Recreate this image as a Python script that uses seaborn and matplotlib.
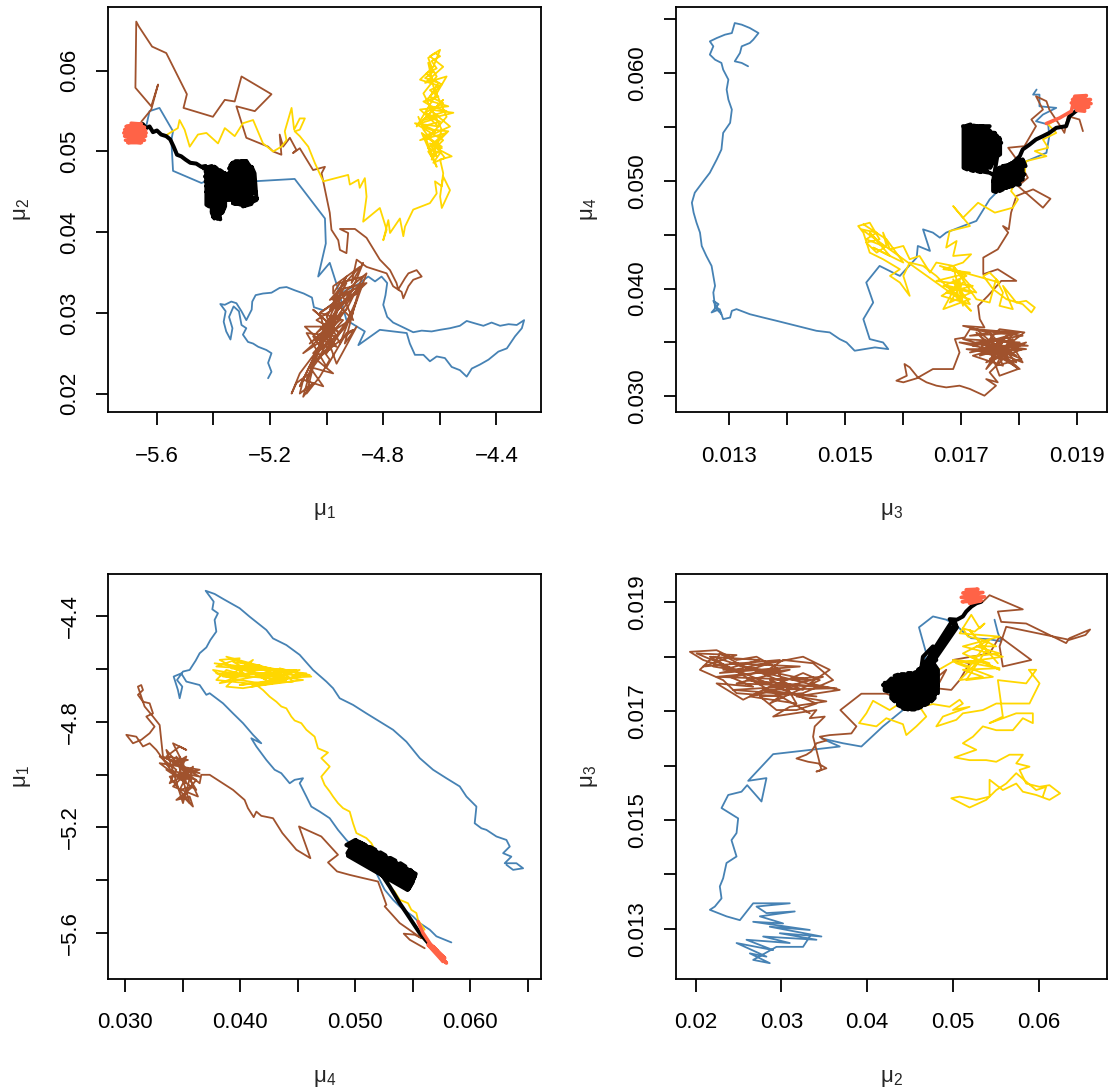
import matplotlib
matplotlib.use("Agg")
import matplotlib.pyplot as plt
import numpy as np
import seaborn as sns

sns.set_style("white")
plt.rcParams['font.family'] = ['Liberation Sans', 'DejaVu Sans']

# ---------------- panel 1 : mu1 (x) vs mu2 (y) ----------------
p1_blue_mu1 = [-5.638, -5.626, -5.591, -5.543, -5.549, -5.543, -5.443, -5.355, -5.260, -5.113,
               -5.006, -5.003, -5.030, -4.989, -4.959, -4.930, -4.865, -4.888, -4.812, -4.717,
               -4.706, -4.688, -4.658, -4.635, -4.611, -4.582, -4.558, -4.529, -4.505, -4.487,
               -4.458, -4.428, -4.393, -4.363, -4.334, -4.310, -4.302, -4.328, -4.357, -4.387,
               -4.417, -4.446, -4.476, -4.505, -4.529, -4.564, -4.599, -4.629, -4.664, -4.694,
               -4.735, -4.765, -4.786, -4.800, -4.792, -4.786, -4.806, -4.829, -4.853, -4.883,
               -4.906, -4.932, -4.956, -4.977, -5.010, -5.045, -5.052, -5.081, -5.113, -5.142,
               -5.166, -5.195, -5.225, -5.251, -5.263, -5.265, -5.284, -5.301, -5.319, -5.337,
               -5.360, -5.376, -5.357, -5.364, -5.355, -5.340, -5.333, -5.345, -5.329, -5.310,
               -5.301, -5.284, -5.296, -5.278, -5.260, -5.242, -5.213, -5.195, -5.207, -5.195,
               -5.207]
p1_blue_mu2 = [0.0531, 0.0550, 0.0554, 0.0525, 0.0514, 0.0476, 0.0461, 0.0471, 0.0463, 0.0466,
               0.0417, 0.0386, 0.0345, 0.0362, 0.0329, 0.0291, 0.0277, 0.0260, 0.0279, 0.0275,
               0.0262, 0.0248, 0.0248, 0.0240, 0.0246, 0.0244, 0.0233, 0.0229, 0.0221, 0.0231,
               0.0236, 0.0242, 0.0252, 0.0256, 0.0271, 0.0281, 0.0291, 0.0285, 0.0286, 0.0284,
               0.0288, 0.0284, 0.0287, 0.0290, 0.0284, 0.0281, 0.0279, 0.0277, 0.0278, 0.0276,
               0.0283, 0.0288, 0.0295, 0.0310, 0.0322, 0.0337, 0.0345, 0.0339, 0.0345, 0.0337,
               0.0332, 0.0328, 0.0321, 0.0312, 0.0303, 0.0307, 0.0319, 0.0324, 0.0328, 0.0332,
               0.0331, 0.0325, 0.0324, 0.0322, 0.0314, 0.0304, 0.0291, 0.0302, 0.0312, 0.0314,
               0.0310, 0.0311, 0.0302, 0.0289, 0.0277, 0.0267, 0.0281, 0.0295, 0.0308, 0.0302,
               0.0285, 0.0281, 0.0273, 0.0264, 0.0262, 0.0258, 0.0254, 0.0250, 0.0238, 0.0227,
               0.0219]

p1_brown_mu1 = [-5.655, -5.620, -5.596, -5.620, -5.676, -5.673, -5.664, -5.617, -5.567, -5.494,
                -5.506, -5.402, -5.360, -5.325, -5.301, -5.195, -5.254, -5.319, -5.284, -5.207,
                -5.189, -5.160, -5.166, -5.154, -5.130, -5.107, -5.119, -5.095, -5.048, -5.006,
                -5.018, -4.989, -4.983, -4.959, -4.953, -4.930, -4.924, -4.953, -4.900, -4.859,
                -4.812, -4.776, -4.753, -4.747, -4.723, -4.711, -4.682, -4.664, -4.694, -4.711,
                -4.729, -4.735, -4.765, -4.788,
                -4.859, -4.894, -4.912, -4.871, -4.924, -4.859, -4.953, -4.906, -4.977, -4.930,
                -4.989, -4.894, -5.036, -4.953, -5.048, -4.977, -5.077, -4.989, -5.024, -4.942,
                -5.048, -4.965, -5.071, -5.000, -4.930, -4.906, -5.036, -4.977, -5.060, -5.012,
                -5.083, -5.095, -5.048, -5.083, -5.060, -5.107, -5.124, -5.095, -5.024, -4.953,
                -4.883, -4.936, -4.894, -4.965, -5.000, -4.924, -4.871, -4.953, -4.977,
                -4.977, -4.883, -4.989, -4.906, -5.024, -4.871, -5.036, -4.930, -5.060, -4.953,
                -5.083, -4.977, -5.048, -4.906, -5.000, -4.953, -5.071, -5.000, -5.095, -4.977,
                -4.918, -5.012, -4.965, -5.048, -4.989, -5.024, -5.071, -5.036, -4.942, -4.894,
                -4.953, -5.000, -4.930, -4.977, -5.024, -4.918, -4.859, -4.942]
p1_brown_mu2 = [0.0537, 0.0552, 0.0583, 0.0556, 0.0579, 0.0661, 0.0655, 0.0630, 0.0622, 0.0571,
                0.0554, 0.0543, 0.0564, 0.0562, 0.0593, 0.0571, 0.0550, 0.0556, 0.0517, 0.0506,
                0.0500, 0.0496, 0.0521, 0.0506, 0.0517, 0.0502, 0.0498, 0.0504, 0.0477, 0.0481,
                0.0473, 0.0424, 0.0403, 0.0390, 0.0378, 0.0374, 0.0399, 0.0404, 0.0404, 0.0393,
                0.0366, 0.0353, 0.0337, 0.0329, 0.0343, 0.0349, 0.0353, 0.0345, 0.0341, 0.0333,
                0.0318, 0.0326, 0.0333, 0.0349,
                0.0357, 0.0366, 0.0337, 0.0362, 0.0316, 0.0337, 0.0329, 0.0291, 0.0316, 0.0345,
                0.0304, 0.0324, 0.0291, 0.0275, 0.0304, 0.0283, 0.0283, 0.0254, 0.0300, 0.0291,
                0.0250, 0.0271, 0.0275, 0.0233, 0.0275, 0.0279, 0.0242, 0.0225, 0.0233, 0.0209,
                0.0217, 0.0200, 0.0213, 0.0196, 0.0225, 0.0213, 0.0200, 0.0225, 0.0258, 0.0300,
                0.0333, 0.0262, 0.0283, 0.0237, 0.0271, 0.0308, 0.0345, 0.0337, 0.0324,
                0.0333, 0.0357, 0.0316, 0.0329, 0.0300, 0.0337, 0.0275, 0.0304, 0.0262, 0.0291,
                0.0250, 0.0275, 0.0233, 0.0300, 0.0250, 0.0316, 0.0217, 0.0275, 0.0209, 0.0295,
                0.0324, 0.0279, 0.0258, 0.0271, 0.0242, 0.0221, 0.0200, 0.0250, 0.0279, 0.0316,
                0.0262, 0.0295, 0.0337, 0.0304, 0.0267, 0.0291, 0.0349, 0.0324]

p1_gold_mu1 = [-5.573, -5.526, -5.520, -5.502, -5.484, -5.455, -5.425, -5.384, -5.360, -5.325,
               -5.296, -5.260, -5.225, -5.189, -5.160, -5.142, -5.148, -5.124, -5.115, -5.095,
               -5.077, -5.095, -5.113, -5.095, -5.065, -5.042, -5.012, -4.924, -4.918, -4.888,
               -4.883, -4.865, -4.859, -4.871, -4.812, -4.788, -4.800, -4.782, -4.776, -4.741,
               -4.729, -4.723, -4.694, -4.635, -4.611, -4.617, -4.593, -4.588, -4.564, -4.593,
               -4.599, -4.588,
               -4.599, -4.558, -4.623, -4.576, -4.670, -4.564, -4.635, -4.552, -4.658, -4.588,
               -4.682, -4.611, -4.576, -4.652, -4.588, -4.635, -4.599, -4.623, -4.670, -4.599,
               -4.647, -4.570, -4.670, -4.605, -4.688, -4.588, -4.635, -4.611, -4.647, -4.576,
               -4.623, -4.641, -4.611, -4.658, -4.593, -4.629, -4.593, -4.664,
               -4.623, -4.641, -4.611, -4.635, -4.593, -4.652, -4.617, -4.664, -4.599, -4.641,
               -4.576, -4.629, -4.658, -4.605, -4.635, -4.593, -4.623, -4.647, -4.611, -4.629,
               -4.599, -4.617, -4.641, -4.623, -4.652, -4.605, -4.635, -4.588, -4.652, -4.611,
               -4.670, -4.623, -4.570, -4.611, -4.641, -4.599, -4.623, -4.582, -4.658, -4.676]
p1_gold_mu2 = [0.0519, 0.0529, 0.0539, 0.0527, 0.0506, 0.0521, 0.0523, 0.0510, 0.0529, 0.0519,
               0.0535, 0.0539, 0.0510, 0.0500, 0.0506, 0.0514, 0.0525, 0.0554, 0.0527, 0.0541,
               0.0541, 0.0527, 0.0525, 0.0519, 0.0506, 0.0486, 0.0463, 0.0471, 0.0459, 0.0465,
               0.0455, 0.0467, 0.0444, 0.0413, 0.0430, 0.0403, 0.0390, 0.0415, 0.0399, 0.0417,
               0.0395, 0.0407, 0.0428, 0.0436, 0.0448, 0.0463, 0.0457, 0.0469, 0.0452, 0.0430,
               0.0444, 0.0473,
               0.0490, 0.0494, 0.0506, 0.0523, 0.0514, 0.0531, 0.0552, 0.0548, 0.0539, 0.0564,
               0.0531, 0.0572, 0.0593, 0.0585, 0.0605, 0.0618, 0.0626, 0.0605, 0.0589, 0.0581,
               0.0564, 0.0556, 0.0552, 0.0531, 0.0535, 0.0514, 0.0498, 0.0481, 0.0514, 0.0543,
               0.0581, 0.0610, 0.0593, 0.0572, 0.0527, 0.0490, 0.0506, 0.0523,
               0.0490, 0.0500, 0.0494, 0.0510, 0.0504, 0.0519, 0.0525, 0.0531, 0.0537, 0.0543,
               0.0550, 0.0556, 0.0562, 0.0568, 0.0576, 0.0583, 0.0589, 0.0597, 0.0603, 0.0612,
               0.0618, 0.0622, 0.0616, 0.0599, 0.0591, 0.0585, 0.0568, 0.0560, 0.0548, 0.0541,
               0.0535, 0.0527, 0.0525, 0.0514, 0.0504, 0.0498, 0.0486, 0.0492, 0.0527, 0.0543]

p1_black_mu1 = [-5.650, -5.638, -5.626, -5.614, -5.600, -5.585, -5.567, -5.553, -5.541, -5.529,
                -5.514, -5.499, -5.482, -5.461, -5.443, -5.428,
                -5.435, -5.396, -5.428, -5.360, -5.430, -5.352, -5.428, -5.349, -5.425, -5.350,
                -5.425, -5.347, -5.423, -5.355, -5.416, -5.359, -5.411, -5.364, -5.406, -5.371,
                -5.402, -5.376, -5.390, -5.366,
                -5.343, -5.333, -5.284, -5.345, -5.266, -5.347, -5.263, -5.349, -5.260, -5.347,
                -5.258, -5.347, -5.254, -5.345, -5.251, -5.343, -5.246, -5.331, -5.266, -5.296,
                -5.248,
                -5.255, -5.265, -5.265, -5.274, -5.274, -5.284, -5.284, -5.293, -5.293, -5.303,
                -5.303, -5.312, -5.312, -5.322, -5.322, -5.331, -5.331, -5.340, -5.340,
                -5.350, -5.350, -5.359, -5.359, -5.369, -5.369, -5.378, -5.378, -5.388, -5.388,
                -5.397, -5.397, -5.406, -5.406, -5.416, -5.416, -5.425, -5.425]
p1_black_mu2 = [0.0534, 0.0529, 0.0531, 0.0524, 0.0526, 0.0521, 0.0519, 0.0515, 0.0506, 0.0496,
                0.0494, 0.0490, 0.0486, 0.0485, 0.0481, 0.0482,
                0.0479, 0.0481, 0.0475, 0.0473, 0.0469, 0.0467, 0.0463, 0.0461, 0.0457, 0.0455,
                0.0450, 0.0448, 0.0444, 0.0442, 0.0438, 0.0436, 0.0432, 0.0430, 0.0426, 0.0424,
                0.0419, 0.0416, 0.0424, 0.0440,
                0.0446, 0.0486, 0.0488, 0.0479, 0.0481, 0.0473, 0.0475, 0.0467, 0.0469, 0.0461,
                0.0463, 0.0455, 0.0457, 0.0448, 0.0450, 0.0442, 0.0442, 0.0436, 0.0435, 0.0432,
                0.0440,
                0.0473, 0.0481, 0.0440, 0.0438, 0.0483, 0.0488, 0.0436, 0.0434, 0.0488, 0.0488,
                0.0434, 0.0435, 0.0488, 0.0488, 0.0435, 0.0436, 0.0486, 0.0483, 0.0440,
                0.0440, 0.0469, 0.0473, 0.0432, 0.0424, 0.0475, 0.0477, 0.0419, 0.0417, 0.0479,
                0.0481, 0.0417, 0.0424, 0.0482, 0.0481, 0.0432, 0.0434, 0.0481]

p1_salmon_mu1 = [-5.691, -5.655, -5.709, -5.644, -5.714, -5.640, -5.717, -5.638, -5.714, -5.640,
                 -5.711, -5.644, -5.703, -5.655, -5.685, -5.673]
p1_salmon_mu2 = [0.0535, 0.0534, 0.0531, 0.0530, 0.0527, 0.0526, 0.0523, 0.0523, 0.0519, 0.0519,
                 0.0514, 0.0514, 0.0511, 0.0511, 0.0512, 0.0533]

# ---------------- panel 2 : mu3 (x) vs mu4 (y) ----------------
p2_blue_mu3 = [0.01831, 0.01825, 0.01836, 0.01836, 0.01865, 0.01842, 0.01830, 0.01851, 0.01853, 0.01848,
               0.01807, 0.01773, 0.01750, 0.01727, 0.01704, 0.01675, 0.01664, 0.01652, 0.01635, 0.01647,
               0.01626, 0.01624, 0.01595, 0.01583, 0.01560, 0.01537, 0.01549, 0.01532, 0.01543, 0.01566,
               0.01575, 0.01552, 0.01517, 0.01503, 0.01491, 0.01474, 0.01451, 0.01428, 0.01405, 0.01382,
               0.01359, 0.01336, 0.01313, 0.01305, 0.01302, 0.01290,
               0.01284, 0.01270, 0.01282, 0.01273, 0.01287, 0.01276,
               0.01273, 0.01276, 0.01270, 0.01261, 0.01253, 0.01250, 0.01244, 0.01239, 0.01236, 0.01241,
               0.01256, 0.01267, 0.01279, 0.01287, 0.01290, 0.01302, 0.01305, 0.01299, 0.01296, 0.01299,
               0.01290, 0.01287, 0.01276, 0.01267, 0.01273, 0.01267, 0.01279, 0.01293, 0.01305, 0.01310,
               0.01322, 0.01336, 0.01351, 0.01342, 0.01336, 0.01322, 0.01319, 0.01310, 0.01322, 0.01333]
p2_blue_mu4 = [0.05846, 0.05799, 0.05799, 0.05691, 0.05676, 0.05614, 0.05552, 0.05522, 0.05414, 0.05259,
               0.05167, 0.04951, 0.04827, 0.04627, 0.04580, 0.04519, 0.04472, 0.04519, 0.04549, 0.04349,
               0.04395, 0.04287, 0.04117, 0.04148, 0.04210, 0.04056, 0.03870, 0.03716, 0.03531, 0.03500,
               0.03438, 0.03454, 0.03423, 0.03500, 0.03531, 0.03593, 0.03608, 0.03639, 0.03670, 0.03701,
               0.03731, 0.03762, 0.03809, 0.03793, 0.03731, 0.03716,
               0.03809, 0.03778, 0.03855, 0.03886, 0.03762, 0.03824,
               0.03963, 0.04025, 0.04210, 0.04302, 0.04395, 0.04519, 0.04611, 0.04704, 0.04796, 0.04889,
               0.04997, 0.05074, 0.05198, 0.05290, 0.05444, 0.05537, 0.05660, 0.05753, 0.05846, 0.05938,
               0.06031, 0.06093, 0.06123, 0.06170, 0.06247, 0.06293, 0.06324, 0.06355, 0.06370, 0.06463,
               0.06448, 0.06417, 0.06370, 0.06309, 0.06278, 0.06247, 0.06185, 0.06108, 0.06093, 0.06062]

p2_brown_mu3 = [0.01911, 0.01905, 0.01885, 0.01879, 0.01874, 0.01853, 0.01848, 0.01830, 0.01842, 0.01822,
                0.01830, 0.01810, 0.01782, 0.01805, 0.01816, 0.01799, 0.01842, 0.01855, 0.01825, 0.01796,
                0.01787, 0.01783, 0.01773, 0.01782, 0.01764, 0.01739, 0.01739, 0.01764, 0.01796, 0.01770,
                0.01747, 0.01730, 0.01733, 0.01741,
                0.01704, 0.01750, 0.01716, 0.01802, 0.01721, 0.01773, 0.01733, 0.01813, 0.01744, 0.01807,
                0.01710, 0.01779, 0.01739, 0.01805, 0.01761, 0.01790, 0.01727, 0.01773, 0.01698, 0.01756,
                0.01802, 0.01773, 0.01750, 0.01764, 0.01744, 0.01761, 0.01741, 0.01716, 0.01698, 0.01675,
                0.01658, 0.01641, 0.01626, 0.01612, 0.01603, 0.01607, 0.01589, 0.01601, 0.01624, 0.01652,
                0.01687, 0.01698, 0.01690, 0.01707,
                0.01716, 0.01807, 0.01727, 0.01813, 0.01739, 0.01796, 0.01750, 0.01773, 0.01721, 0.01802,
                0.01704, 0.01784, 0.01750, 0.01810, 0.01767, 0.01733, 0.01796, 0.01756, 0.01816, 0.01773,
                0.01716, 0.01790, 0.01744, 0.01779, 0.01807, 0.01761, 0.01727, 0.01799, 0.01767, 0.01750]
p2_brown_mu4 = [0.05460, 0.05568, 0.05599, 0.05444, 0.05491, 0.05660, 0.05738, 0.05784, 0.05660, 0.05568,
                0.05506, 0.05321, 0.05306, 0.05136, 0.05028, 0.04951, 0.04750, 0.04833, 0.04920, 0.04858,
                0.04704, 0.04549, 0.04580, 0.04519, 0.04364, 0.04287, 0.04133, 0.04179, 0.04071, 0.04071,
                0.03932, 0.03840, 0.03716, 0.03639,
                0.03654, 0.03593, 0.03562, 0.03593, 0.03469, 0.03531, 0.03377, 0.03500, 0.03315, 0.03438,
                0.03438, 0.03377, 0.03500, 0.03346, 0.03284, 0.03593, 0.03623, 0.03407, 0.03500, 0.03469,
                0.03253, 0.03346, 0.03222, 0.03130, 0.03160, 0.03099, 0.03006, 0.03068, 0.03099, 0.03083,
                0.03099, 0.03130, 0.03176, 0.03269, 0.03300, 0.03191, 0.03145, 0.03130, 0.03167, 0.03253,
                0.03253, 0.03407, 0.03531, 0.03546,
                0.03623, 0.03562, 0.03500, 0.03438, 0.03407, 0.03315, 0.03593, 0.03284, 0.03377, 0.03500,
                0.03531, 0.03407, 0.03346, 0.03593, 0.03623, 0.03438, 0.03377, 0.03531, 0.03469, 0.03469,
                0.03407, 0.03531, 0.03253, 0.03562, 0.03315, 0.03407, 0.03593, 0.03253, 0.03191, 0.03438]

p2_gold_mu3 = [0.01871, 0.01851, 0.01865, 0.01842, 0.01851, 0.01828, 0.01848, 0.01813, 0.01810, 0.01796,
               0.01787, 0.01799, 0.01790, 0.01759, 0.01730, 0.01704, 0.01687, 0.01716, 0.01681, 0.01675,
               0.01693, 0.01687, 0.01718, 0.01704, 0.01670, 0.01716, 0.01658, 0.01721, 0.01675, 0.01716,
               0.01670, 0.01698, 0.01704, 0.01687, 0.01727, 0.01678, 0.01718, 0.01658, 0.01635, 0.01612,
               0.01601, 0.01612, 0.01595, 0.01578, 0.01595, 0.01566, 0.01543, 0.01532, 0.01523, 0.01543,
               0.01560, 0.01537, 0.01555, 0.01572, 0.01566, 0.01578, 0.01601, 0.01612, 0.01629, 0.01647,
               0.01658, 0.01687, 0.01727, 0.01750, 0.01761, 0.01773, 0.01767, 0.01790, 0.01773, 0.01796,
               0.01813, 0.01828, 0.01822, 0.01807, 0.01779, 0.01756, 0.01739, 0.01750, 0.01767,
               0.01664, 0.01710, 0.01670, 0.01718, 0.01681, 0.01704, 0.01667, 0.01716, 0.01687, 0.01698,
               0.01529, 0.01555, 0.01537, 0.01566, 0.01543, 0.01578, 0.01549, 0.01601, 0.01572, 0.01532]
p2_gold_mu4 = [0.05583, 0.05522, 0.05444, 0.05383, 0.05306, 0.05275, 0.05228, 0.05182, 0.05059, 0.05012,
               0.04904, 0.04827, 0.04750, 0.04704, 0.04796, 0.04657, 0.04765, 0.04580, 0.04534, 0.04380,
               0.04441, 0.04302, 0.04318, 0.04241, 0.04179, 0.04148, 0.04071, 0.04025, 0.03963, 0.03901,
               0.03809, 0.04086, 0.03840, 0.04210, 0.03963, 0.04025, 0.03793, 0.04117, 0.04210, 0.04241,
               0.04117, 0.03932, 0.04056, 0.04117, 0.04179, 0.04272, 0.04333, 0.04519, 0.04580, 0.04611,
               0.04457, 0.04426, 0.04333, 0.04395, 0.04519, 0.04364, 0.04395, 0.04272, 0.04302, 0.04148,
               0.04241, 0.04210, 0.03901, 0.03870, 0.04086, 0.03963, 0.03840, 0.03809, 0.04025, 0.03870,
               0.03886, 0.03824, 0.03778, 0.03855, 0.03901, 0.03994, 0.04117, 0.04148, 0.04056,
               0.04210, 0.04117, 0.04025, 0.03963, 0.03870, 0.04056, 0.03932, 0.03855, 0.04086, 0.03901,
               0.04549, 0.04519, 0.04457, 0.04395, 0.04519, 0.04302, 0.04380, 0.04241, 0.04457, 0.04596]

p2_black_mu3 = [0.01902, 0.01888, 0.01882, 0.01865, 0.01853, 0.01842, 0.01830, 0.01819, 0.01807, 0.01802,
                0.01790, 0.01779, 0.01767,
                0.01759, 0.01802, 0.01756, 0.01807, 0.01761, 0.01810, 0.01767, 0.01802, 0.01773, 0.01799,
                0.01764, 0.01790,
                0.01750, 0.01733, 0.01741, 0.01707, 0.01759, 0.01710, 0.01750, 0.01716, 0.01764, 0.01718,
                0.01767, 0.01716, 0.01770, 0.01718, 0.01767, 0.01710, 0.01759, 0.01707, 0.01750, 0.01704,
                0.01705, 0.01705, 0.01711, 0.01711, 0.01717, 0.01717, 0.01722, 0.01722, 0.01728, 0.01728,
                0.01734, 0.01734, 0.01740, 0.01740, 0.01745, 0.01745, 0.01751, 0.01751, 0.01757, 0.01757,
                0.01763, 0.01763, 0.01768, 0.01768,
                0.01756, 0.01756, 0.01761, 0.01761, 0.01767, 0.01767, 0.01773, 0.01773, 0.01779, 0.01779,
                0.01784, 0.01784, 0.01790, 0.01790, 0.01796, 0.01796, 0.01802, 0.01802, 0.01807, 0.01807,
                0.01812]
p2_black_mu4 = [0.05660, 0.05599, 0.05506, 0.05491, 0.05444, 0.05414, 0.05383, 0.05336, 0.05290, 0.05228,
                0.05167, 0.05136, 0.05120,
                0.04966, 0.04966, 0.04997, 0.05012, 0.05043, 0.05059, 0.05090, 0.05105, 0.05136, 0.05136,
                0.04920, 0.04951,
                0.05074, 0.05090, 0.05120, 0.05120, 0.05167, 0.05182, 0.05228, 0.05228, 0.05275, 0.05275,
                0.05306, 0.05321, 0.05352, 0.05367, 0.05398, 0.05414, 0.05444, 0.05460, 0.05506, 0.05506,
                0.05491, 0.05120, 0.05105, 0.05512, 0.05522, 0.05099, 0.05090, 0.05512, 0.05506, 0.05090,
                0.05080, 0.05506, 0.05500, 0.05090, 0.05099, 0.05491, 0.05460, 0.05120, 0.05198, 0.05444,
                0.05414, 0.05228, 0.05244, 0.05383,
                0.04997, 0.04904, 0.04895, 0.05074, 0.05120, 0.04904, 0.04920, 0.05136, 0.05142, 0.04935,
                0.04951, 0.05151, 0.05167, 0.04966, 0.04981, 0.05182, 0.05198, 0.04997, 0.05028, 0.05198,
                0.05136]

p2_salmon_mu3 = [0.01848, 0.01871, 0.01891, 0.01897, 0.01917, 0.01893, 0.01924, 0.01891, 0.01925, 0.01894,
                 0.01921, 0.01900, 0.01914, 0.01905]
p2_salmon_mu4 = [0.05531, 0.05583, 0.05645, 0.05784, 0.05790, 0.05753, 0.05753, 0.05722, 0.05716, 0.05685,
                 0.05685, 0.05654, 0.05645, 0.05753]

# ---------------- panel 3 : mu4 (x) vs mu1 (y) ----------------
p3_blue_mu4 = [0.05836, 0.05706, 0.05648, 0.05561, 0.05503, 0.05387, 0.05329, 0.05256, 0.05198, 0.05155,
               0.05097, 0.05039, 0.04981, 0.04923, 0.04850, 0.04778, 0.04691, 0.04618, 0.04575, 0.04517,
               0.04546, 0.04473, 0.04430, 0.04357, 0.04299, 0.04227, 0.04140, 0.04096, 0.04183, 0.04111,
               0.04024, 0.03937, 0.03850, 0.03734, 0.03705, 0.03647, 0.03531, 0.03487, 0.03421, 0.03458,
               0.03473, 0.03496, 0.03450, 0.03502, 0.03560, 0.03612, 0.03647, 0.03705, 0.03740, 0.03792,
               0.03777, 0.03806, 0.03757, 0.03769, 0.03699, 0.03777, 0.03856, 0.03995, 0.04082, 0.04227,
               0.04285, 0.04401, 0.04517, 0.04633, 0.04749, 0.04807, 0.04865, 0.04981, 0.05097, 0.05213,
               0.05329, 0.05445, 0.05561, 0.05677, 0.05793, 0.05909, 0.05967, 0.06054, 0.06039, 0.06097,
               0.06141, 0.06228, 0.06315, 0.06344, 0.06286, 0.06358, 0.06300, 0.06402, 0.06460, 0.06373,
               0.06315]
p3_blue_mu1 = [-5.634, -5.611, -5.586, -5.561, -5.536, -5.498, -5.473, -5.435, -5.385, -5.347,
               -5.322, -5.297, -5.272, -5.247, -5.209, -5.165, -5.140, -5.121, -5.083, -5.033,
               -5.014, -5.020, -5.033, -4.995, -4.982, -4.945, -4.894, -4.863, -4.882, -4.850,
               -4.806, -4.769, -4.731, -4.693, -4.699, -4.662, -4.649, -4.618, -4.630, -4.681,
               -4.712, -4.668, -4.643, -4.611, -4.605, -4.570, -4.542, -4.520, -4.492, -4.460,
               -4.416, -4.391, -4.376, -4.347, -4.306, -4.318, -4.338, -4.372, -4.404, -4.454,
               -4.486, -4.511, -4.548, -4.605, -4.649, -4.674, -4.712, -4.737, -4.769, -4.800,
               -4.831, -4.876, -4.938, -4.982, -5.014, -5.045, -5.083, -5.121, -5.184, -5.203,
               -5.209, -5.234, -5.247, -5.272, -5.297, -5.310, -5.335, -5.335, -5.354, -5.360,
               -5.341]

p3_brown_mu4 = [0.05604, 0.05474, 0.05422, 0.05517, 0.05575, 0.05387, 0.05256, 0.05271, 0.05198, 0.05068,
                0.04952, 0.04842, 0.04763, 0.04850, 0.04705, 0.04511, 0.04610, 0.04488, 0.04366, 0.04285,
                0.04183, 0.04140, 0.04117, 0.04067, 0.04038, 0.03937, 0.03734, 0.03661,
                0.03647, 0.03502, 0.03647, 0.03415, 0.03545, 0.03357, 0.03473, 0.03531, 0.03415, 0.03502,
                0.03299, 0.03444, 0.03386, 0.03545, 0.03473, 0.03589, 0.03444, 0.03560, 0.03589, 0.03502,
                0.03618, 0.03415, 0.03270, 0.03212, 0.03154, 0.03096, 0.03009, 0.03067, 0.03139, 0.03212,
                0.03255, 0.03183, 0.03241, 0.03212, 0.03154, 0.03110, 0.03154, 0.03139, 0.03110, 0.03168,
                0.03241, 0.03299,
                0.03328, 0.03647, 0.03357, 0.03618, 0.03444, 0.03560, 0.03386, 0.03647, 0.03299, 0.03531,
                0.03473, 0.03632, 0.03415, 0.03589, 0.03502, 0.03357, 0.03574, 0.03458, 0.03531, 0.03386]
p3_brown_mu1 = [-5.656, -5.624, -5.601, -5.605, -5.618, -5.561, -5.498, -5.492, -5.404, -5.391,
                -5.379, -5.366, -5.332, -5.303, -5.234, -5.196, -5.316, -5.284, -5.221, -5.165,
                -5.156, -5.140, -5.161, -5.127, -5.096, -5.058, -5.001, -5.001,
                -5.033, -4.982, -4.995, -4.957, -4.945, -4.932, -4.894, -4.907, -4.882, -4.957,
                -4.932, -4.982, -5.033, -4.995, -5.058, -5.045, -5.096, -5.083, -5.121, -5.083,
                -5.020, -4.995, -4.907, -4.882, -4.894, -4.857, -4.850, -4.882, -4.869, -4.844,
                -4.819, -4.781, -4.769, -4.731, -4.725, -4.699, -4.681, -4.662, -4.668, -4.743,
                -4.781, -4.813,
                -4.932, -5.008, -4.982, -5.058, -4.932, -5.108, -5.008, -4.982, -4.957, -5.033,
                -4.932, -5.083, -5.045, -4.970, -5.108, -4.907, -5.020, -5.008, -4.932, -4.970]

p3_gold_mu4 = [0.05604, 0.05546, 0.05532, 0.05488, 0.05459, 0.05387, 0.05343, 0.05300, 0.05271, 0.05242,
               0.05227, 0.05184, 0.05140, 0.05097, 0.05010, 0.04981, 0.04952, 0.04894, 0.04850, 0.04807,
               0.04778, 0.04734, 0.04705, 0.04778, 0.04705, 0.04763, 0.04676, 0.04647, 0.04575, 0.04531,
               0.04473, 0.04444, 0.04401, 0.04357, 0.04314, 0.04256, 0.04198, 0.04140,
               0.04053, 0.03792, 0.03879, 0.04082, 0.03821, 0.03995, 0.03792, 0.04227, 0.03995, 0.04401,
               0.04140, 0.04517, 0.04285, 0.04618, 0.04343, 0.04459, 0.04169, 0.03995, 0.03821, 0.03763,
               0.03937, 0.04111, 0.03879, 0.04024, 0.04285, 0.04575,
               0.03777, 0.04140, 0.03821, 0.04285, 0.03879, 0.04517, 0.03995, 0.04401, 0.03792, 0.04604,
               0.03937, 0.04227, 0.04053, 0.04488, 0.03850, 0.04343, 0.04096, 0.04546, 0.03922, 0.04169]
p3_gold_mu1 = [-5.586, -5.549, -5.523, -5.511, -5.486, -5.473, -5.442, -5.423, -5.385, -5.360,
               -5.335, -5.297, -5.259, -5.240, -5.221, -5.184, -5.140, -5.127, -5.108, -5.083,
               -5.064, -5.039, -5.008, -4.970, -4.938, -4.917, -4.901, -4.857, -4.831, -4.806,
               -4.796, -4.781, -4.750, -4.743, -4.725, -4.706, -4.681, -4.662,
               -4.655, -4.643, -4.605, -4.630, -4.567, -4.561, -4.592, -4.605, -4.592, -4.605,
               -4.630, -4.605, -4.637, -4.630, -4.599, -4.649, -4.655, -4.643, -4.624, -4.605,
               -4.618, -4.567, -4.668, -4.674, -4.655, -4.618,
               -4.580, -4.605, -4.655, -4.618, -4.555, -4.630, -4.662, -4.643, -4.618, -4.624,
               -4.574, -4.643, -4.605, -4.605, -4.630, -4.630, -4.668, -4.643, -4.599, -4.586]

p3_black_mu4 = [0.05648, 0.05561, 0.05503, 0.05445, 0.05387, 0.05343, 0.05300, 0.05242, 0.05184, 0.05155,
                0.05097, 0.05039, 0.05010, 0.04952, 0.04923,
                0.05001, 0.04932, 0.04975, 0.05045, 0.05088, 0.05019, 0.05062, 0.05132, 0.05175, 0.05106,
                0.05149, 0.05219, 0.05262, 0.05193, 0.05236, 0.05306, 0.05349, 0.05280, 0.05323, 0.05393,
                0.05436, 0.05367, 0.05410, 0.05480, 0.05517, 0.05445, 0.05459, 0.05503,
                0.04995, 0.05517, 0.05488, 0.04966, 0.04946, 0.05474, 0.05451, 0.04937,
                0.05010, 0.05526, 0.05509, 0.04981, 0.04958, 0.05488, 0.05468, 0.04943]
p3_black_mu1 = [-5.643, -5.599, -5.561, -5.523, -5.486, -5.454, -5.423, -5.385, -5.360, -5.335,
                -5.322, -5.310, -5.284, -5.272, -5.266,
                -5.247, -5.297, -5.307, -5.257, -5.266, -5.316, -5.325, -5.274, -5.284, -5.335,
                -5.345, -5.294, -5.305, -5.355, -5.365, -5.315, -5.325, -5.375, -5.385, -5.335,
                -5.347, -5.398, -5.410, -5.360, -5.379, -5.429, -5.435, -5.404,
                -5.253, -5.385, -5.404, -5.274, -5.294, -5.423, -5.435, -5.307,
                -5.249, -5.375, -5.395, -5.262, -5.284, -5.413, -5.429, -5.299]

p3_salmon_mu4 = [0.05546, 0.05590, 0.05648, 0.05793, 0.05677, 0.05778, 0.05633, 0.05764, 0.05706, 0.05735]
p3_salmon_mu1 = [-5.555, -5.599, -5.637, -5.712, -5.649, -5.693, -5.643, -5.706, -5.662, -5.687]

# ---------------- panel 4 : mu2 (x) vs mu3 (y) ----------------
p4_blue_mu2 = [0.05487, 0.05526, 0.05565, 0.05429, 0.05216, 0.05118, 0.05041, 0.04924, 0.04769, 0.04606,
               0.04691, 0.04652, 0.04536, 0.04419, 0.04186, 0.03934, 0.03720, 0.03468, 0.03682, 0.02905,
               0.02614, 0.02827, 0.02769, 0.02602, 0.02536, 0.02381, 0.02303, 0.02497, 0.02478, 0.02419,
               0.02478, 0.02361, 0.02322, 0.02283, 0.02303, 0.02225, 0.02167,
               0.02361, 0.02517, 0.02672, 0.03099, 0.02711, 0.02827, 0.03157, 0.02750, 0.03021, 0.02672,
               0.03332, 0.02866, 0.03468, 0.02983, 0.03410, 0.02788, 0.03099, 0.02594, 0.02905, 0.02478,
               0.02827, 0.02633, 0.02866, 0.02672, 0.02944, 0.03254, 0.03332]
p4_blue_mu3 = [0.01868, 0.01844, 0.01828, 0.01832, 0.01834, 0.01846, 0.01858, 0.01868, 0.01874, 0.01854,
               0.01806, 0.01776, 0.01739, 0.01702, 0.01672, 0.01635, 0.01641, 0.01650, 0.01635, 0.01621,
               0.01572, 0.01577, 0.01534, 0.01564, 0.01552, 0.01546, 0.01522, 0.01503, 0.01476, 0.01463,
               0.01433, 0.01421, 0.01393, 0.01378, 0.01356, 0.01341, 0.01335,
               0.01323, 0.01316, 0.01347, 0.01347, 0.01341, 0.01329, 0.01332, 0.01323, 0.01310, 0.01313,
               0.01298, 0.01304, 0.01286, 0.01292, 0.01280, 0.01286, 0.01274, 0.01280, 0.01261, 0.01274,
               0.01249, 0.01255, 0.01237, 0.01243, 0.01267, 0.01267, 0.01286]

p4_brown_mu2 = [0.05351, 0.05429, 0.05817, 0.05526, 0.05565, 0.05856, 0.06322, 0.06361, 0.06602, 0.06548,
                0.06361, 0.05623, 0.05546, 0.05584, 0.05915, 0.05546, 0.05429, 0.05002, 0.05196, 0.05080,
                0.04983, 0.04808, 0.04924, 0.04730, 0.04419, 0.04225, 0.03934, 0.03689, 0.03876, 0.03817,
                0.03565, 0.03449, 0.03526, 0.03410, 0.03351, 0.03293, 0.03177, 0.03313, 0.03429, 0.03526,
                0.03410, 0.03468, 0.03371, 0.03390, 0.03507, 0.03332,
                0.03410, 0.02905, 0.03099, 0.03526, 0.03177, 0.03682, 0.03332, 0.03565, 0.03254, 0.02866,
                0.02633, 0.02283, 0.02206, 0.02439, 0.02089, 0.01934, 0.02245, 0.02478, 0.02711, 0.02983,
                0.02400, 0.02672, 0.02245, 0.02555, 0.02866, 0.03060, 0.03254, 0.03449, 0.02866, 0.02983,
                0.02478, 0.02322, 0.02050, 0.02206, 0.02788, 0.03021, 0.03371, 0.03604, 0.03254, 0.02750,
                0.02944, 0.03177, 0.03410,
                0.02012, 0.02478, 0.02089, 0.02983, 0.02283, 0.03216, 0.02400, 0.03332, 0.02245, 0.03099,
                0.02478, 0.03449, 0.02672, 0.03254, 0.02594, 0.03643, 0.02788, 0.03410, 0.02439, 0.03060,
                0.02866, 0.03487, 0.02633, 0.03177, 0.02944, 0.02322, 0.02750, 0.02167, 0.03060, 0.03332]
p4_brown_mu3 = [0.01901, 0.01913, 0.01887, 0.01883, 0.01864, 0.01861, 0.01825, 0.01834, 0.01850, 0.01840,
                0.01831, 0.01855, 0.01819, 0.01782, 0.01794, 0.01837, 0.01806, 0.01794, 0.01788, 0.01757,
                0.01739, 0.01742, 0.01776, 0.01751, 0.01721, 0.01732, 0.01732, 0.01702, 0.01672, 0.01659,
                0.01656, 0.01653, 0.01646, 0.01641, 0.01626, 0.01620, 0.01613, 0.01607, 0.01604, 0.01595,
                0.01589, 0.01592, 0.01653, 0.01672, 0.01690, 0.01687,
                0.01702, 0.01690, 0.01708, 0.01718, 0.01727, 0.01739, 0.01751, 0.01776, 0.01800, 0.01788,
                0.01776, 0.01806, 0.01782, 0.01776, 0.01794, 0.01809, 0.01812, 0.01794, 0.01800, 0.01776,
                0.01763, 0.01745, 0.01751, 0.01721, 0.01745, 0.01757, 0.01770, 0.01757, 0.01714, 0.01727,
                0.01733, 0.01757, 0.01776, 0.01800, 0.01770, 0.01794, 0.01788, 0.01757, 0.01733, 0.01727,
                0.01702, 0.01702, 0.01714,
                0.01806, 0.01803, 0.01782, 0.01794, 0.01770, 0.01782, 0.01788, 0.01757, 0.01763, 0.01776,
                0.01751, 0.01745, 0.01776, 0.01739, 0.01757, 0.01742, 0.01739, 0.01727, 0.01739, 0.01745,
                0.01757, 0.01763, 0.01727, 0.01714, 0.01776, 0.01776, 0.01794, 0.01800, 0.01721, 0.01696]

p4_gold_mu2 = [0.05526, 0.05196, 0.05390, 0.05157, 0.05468, 0.05041, 0.05584, 0.05118, 0.05546, 0.05080,
               0.05216, 0.05313, 0.05371, 0.05254, 0.05118, 0.05177, 0.05351, 0.05507, 0.05274, 0.05546,
               0.05196, 0.05429, 0.05002, 0.05546, 0.05118, 0.05351, 0.05080, 0.05313, 0.05546, 0.05118,
               0.05429, 0.05196, 0.05002, 0.04769, 0.04691,
               0.04652, 0.04419, 0.04264, 0.04070, 0.03992, 0.03907, 0.04109, 0.04225, 0.04419, 0.04458,
               0.04575, 0.04691, 0.04614, 0.04769,
               0.04963, 0.05080, 0.05118, 0.05002, 0.05196, 0.04885, 0.04808, 0.05041, 0.05118, 0.05351,
               0.05507, 0.05662, 0.05895, 0.06012, 0.05887, 0.05973, 0.05856, 0.05526, 0.05584, 0.05429,
               0.05740, 0.05934, 0.05934, 0.05817, 0.05701, 0.05507, 0.05351, 0.05235, 0.05118, 0.05274,
               0.05021, 0.05196, 0.05390, 0.05507, 0.05662, 0.05817,
               0.05740, 0.05895, 0.05779, 0.05856, 0.06012, 0.06128, 0.06252, 0.06128, 0.05973, 0.05817,
               0.05740, 0.05584, 0.05429, 0.05429, 0.05274, 0.05080, 0.04983, 0.05196, 0.05390, 0.05507,
               0.05623, 0.05740, 0.05973, 0.06089, 0.06050]
p4_gold_mu3 = [0.01788, 0.01849, 0.01812, 0.01757, 0.01763, 0.01788, 0.01800, 0.01819, 0.01837, 0.01843,
               0.01877, 0.01852, 0.01861, 0.01846, 0.01852, 0.01837, 0.01831, 0.01819, 0.01819, 0.01806,
               0.01800, 0.01788, 0.01794, 0.01779, 0.01776, 0.01763, 0.01757, 0.01794, 0.01776, 0.01806,
               0.01831, 0.01782, 0.01791, 0.01770, 0.01751,
               0.01718, 0.01718, 0.01702, 0.01719, 0.01696, 0.01678, 0.01672, 0.01687, 0.01676, 0.01656,
               0.01672, 0.01690, 0.01708, 0.01713,
               0.01708, 0.01721, 0.01714, 0.01702, 0.01708, 0.01690, 0.01672, 0.01684, 0.01696, 0.01702,
               0.01714, 0.01714, 0.01714, 0.01751, 0.01776, 0.01776, 0.01751, 0.01757, 0.01690, 0.01678,
               0.01696, 0.01696, 0.01678, 0.01687, 0.01665, 0.01665, 0.01672, 0.01653, 0.01641, 0.01629,
               0.01615, 0.01610, 0.01610, 0.01607, 0.01620, 0.01620,
               0.01604, 0.01598, 0.01592, 0.01567, 0.01561, 0.01564, 0.01549, 0.01537, 0.01546, 0.01552,
               0.01567, 0.01555, 0.01574, 0.01543, 0.01537, 0.01543, 0.01540, 0.01523, 0.01537, 0.01555,
               0.01567, 0.01586, 0.01555, 0.01561, 0.01543]

p4_black_mu2 = [0.05332, 0.05274, 0.05216, 0.05157, 0.05118, 0.05049, 0.04963, 0.05041, 0.04944, 0.04905,
                0.04854, 0.04827, 0.04788, 0.04730, 0.04691, 0.04633, 0.04652, 0.04769, 0.04711, 0.04594,
                0.04808, 0.04575,
                0.04419, 0.04652, 0.04303, 0.04808, 0.04186, 0.04827, 0.04283, 0.04808, 0.04342, 0.04788,
                0.04361, 0.04730, 0.04381, 0.04652, 0.04419, 0.04575, 0.04225, 0.04419,
                0.04206, 0.04206, 0.04245, 0.04245, 0.04283, 0.04283, 0.04322, 0.04322, 0.04361, 0.04361,
                0.04400, 0.04400, 0.04439, 0.04439, 0.04478, 0.04478, 0.04517, 0.04517, 0.04555, 0.04555,
                0.04594, 0.04594, 0.04633, 0.04633, 0.04672, 0.04672, 0.04711, 0.04711, 0.04750, 0.04750,
                0.04788, 0.04788, 0.04827, 0.04827,
                0.04652, 0.04994, 0.05033, 0.04691, 0.04738, 0.05049]
p4_black_mu3 = [0.01901, 0.01898, 0.01892, 0.01883, 0.01874, 0.01868, 0.01869, 0.01857, 0.01849, 0.01837,
                0.01828, 0.01815, 0.01806, 0.01797, 0.01785, 0.01779, 0.01800, 0.01819, 0.01782, 0.01776,
                0.01794, 0.01763,
                0.01765, 0.01757, 0.01757, 0.01763, 0.01748, 0.01748, 0.01739, 0.01739, 0.01730, 0.01730,
                0.01721, 0.01721, 0.01711, 0.01711, 0.01705, 0.01705, 0.01745, 0.01751,
                0.01752, 0.01738, 0.01736, 0.01754, 0.01760, 0.01724, 0.01718, 0.01765, 0.01767, 0.01711,
                0.01708, 0.01768, 0.01768, 0.01705, 0.01703, 0.01770, 0.01770, 0.01703, 0.01703, 0.01771,
                0.01773, 0.01705, 0.01708, 0.01776, 0.01777, 0.01711, 0.01714, 0.01779, 0.01782, 0.01718,
                0.01724, 0.01785, 0.01776, 0.01733,
                0.01782, 0.01866, 0.01861, 0.01779, 0.01783, 0.01854]

p4_salmon_mu2 = [0.05157, 0.05293, 0.05118, 0.05351, 0.05099, 0.05371, 0.05111, 0.05332, 0.05196, 0.05274]
p4_salmon_mu3 = [0.01923, 0.01924, 0.01917, 0.01918, 0.01909, 0.01910, 0.01901, 0.01903, 0.01898, 0.01913]

# ---------------- axes ----------------
mu1_ticks = [-5.6, -5.4, -5.2, -5.0, -4.8, -4.6, -4.4]
mu1_shown = [-5.6, -5.2, -4.8, -4.4]
mu2_ticks = [0.02, 0.03, 0.04, 0.05, 0.06]
mu2_shown = [0.02, 0.03, 0.04, 0.05, 0.06]
mu3_ticks = [0.013, 0.014, 0.015, 0.016, 0.017, 0.018, 0.019]
mu3_shown = [0.013, 0.015, 0.017, 0.019]
mu4_ticks = [0.030, 0.035, 0.040, 0.045, 0.050, 0.055, 0.060, 0.065]
mu4_shown = [0.030, 0.040, 0.050, 0.060]

mu1_lim = (-5.772, -4.2426)
mu2_lim = (0.01768, 0.06795)
mu3_lim = (0.01208, 0.01952)
mu4_lim = (0.02852, 0.06615)

chain_colors = ['steelblue', 'sienna', 'gold', 'black', 'tomato']
chain_widths = [1.3, 1.3, 1.3, 2.9, 2.6]


def tick_text(ticks, shown, fmt):
    out = []
    for t in ticks:
        if any(np.isclose(t, s) for s in shown):
            out.append(fmt.format(t).replace('-', '\u2212'))
        else:
            out.append('')
    return out


def draw_panel(ax, paths, xinfo, yinfo, xlab, ylab):
    for (x, y), col, lw in zip(paths, chain_colors, chain_widths):
        sns.lineplot(x=x, y=y, sort=False, estimator=None, color=col,
                     linewidth=lw, ax=ax)
    xt, xs, xf, xl = xinfo
    yt, ys, yf, yl = yinfo
    ax.set_xlim(xl)
    ax.set_ylim(yl)
    ax.set_xticks(xt, tick_text(xt, xs, xf))
    ax.set_yticks(yt, tick_text(yt, ys, yf))
    ax.tick_params(axis='both', direction='out', length=9, width=1.3,
                   labelsize=16, colors='black', bottom=True, left=True)
    ax.tick_params(axis='x', pad=15)
    ax.tick_params(axis='y', pad=11, labelrotation=90)
    plt.setp(ax.get_yticklabels(), va='center')
    for s in ax.spines.values():
        s.set_visible(True)
        s.set_color('black')
        s.set_linewidth(1.3)
    ax.set_xlabel(xlab, fontsize=16, labelpad=25)
    ax.set_ylabel(ylab, fontsize=16, labelpad=19)
    ax.grid(False)


fig = plt.figure(figsize=(11.08, 10.91), dpi=100)
ax1 = fig.add_axes([0.0977, 0.6221, 0.3905, 0.3718])
ax2 = fig.add_axes([0.6098, 0.6221, 0.3890, 0.3718])
ax3 = fig.add_axes([0.0977, 0.1027, 0.3905, 0.3712])
ax4 = fig.add_axes([0.6098, 0.1027, 0.3890, 0.3712])

mu1_info = (mu1_ticks, mu1_shown, '{:.1f}', mu1_lim)
mu2_info = (mu2_ticks, mu2_shown, '{:.2f}', mu2_lim)
mu3_info = (mu3_ticks, mu3_shown, '{:.3f}', mu3_lim)
mu4_info = (mu4_ticks, mu4_shown, '{:.3f}', mu4_lim)

lab1 = r'$\mathregular{\mu_1}$'
lab2 = r'$\mathregular{\mu_2}$'
lab3 = r'$\mathregular{\mu_3}$'
lab4 = r'$\mathregular{\mu_4}$'

draw_panel(ax1, [(p1_blue_mu1, p1_blue_mu2), (p1_brown_mu1, p1_brown_mu2),
                 (p1_gold_mu1, p1_gold_mu2), (p1_black_mu1, p1_black_mu2),
                 (p1_salmon_mu1, p1_salmon_mu2)],
           mu1_info, mu2_info, lab1, lab2)
draw_panel(ax2, [(p2_blue_mu3, p2_blue_mu4), (p2_brown_mu3, p2_brown_mu4),
                 (p2_gold_mu3, p2_gold_mu4), (p2_black_mu3, p2_black_mu4),
                 (p2_salmon_mu3, p2_salmon_mu4)],
           mu3_info, mu4_info, lab3, lab4)
draw_panel(ax3, [(p3_blue_mu4, p3_blue_mu1), (p3_brown_mu4, p3_brown_mu1),
                 (p3_gold_mu4, p3_gold_mu1), (p3_black_mu4, p3_black_mu1),
                 (p3_salmon_mu4, p3_salmon_mu1)],
           mu4_info, mu1_info, lab4, lab1)
draw_panel(ax4, [(p4_blue_mu2, p4_blue_mu3), (p4_brown_mu2, p4_brown_mu3),
                 (p4_gold_mu2, p4_gold_mu3), (p4_black_mu2, p4_black_mu3),
                 (p4_salmon_mu2, p4_salmon_mu3)],
           mu2_info, mu3_info, lab2, lab3)

fig.savefig('out.png', dpi=100)
